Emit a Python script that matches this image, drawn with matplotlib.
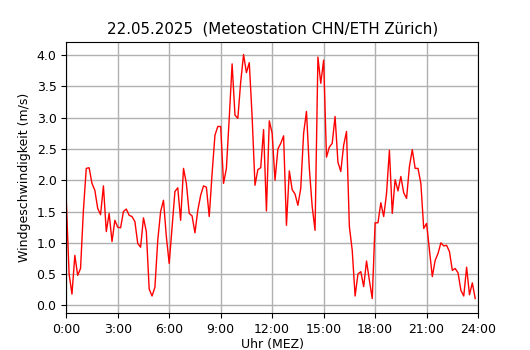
import numpy as np
import matplotlib
matplotlib.use("Agg")
import matplotlib.pyplot as plt

# Wind speed (m/s), 10-minute values from 0:00 to 23:50
wind = [
    1.68, 0.50, 0.18, 0.80, 0.48, 0.59, 1.52, 2.19, 2.20, 1.95,
    1.84, 1.55, 1.45, 1.91, 1.18, 1.47, 1.02, 1.36, 1.25, 1.24,
    1.50, 1.54, 1.44, 1.42, 1.34, 0.99, 0.93, 1.40, 1.18, 0.26,
    0.15, 0.29, 1.04, 1.50, 1.68, 1.10, 0.67, 1.25, 1.82, 1.88,
    1.36, 2.19, 1.95, 1.47, 1.43, 1.16, 1.52, 1.76, 1.91, 1.89,
    1.42, 2.11, 2.72, 2.86, 2.86, 1.95, 2.19, 3.00, 3.86, 3.04,
    2.99, 3.57, 4.01, 3.72, 3.88, 3.01, 1.92, 2.17, 2.20, 2.81,
    1.51, 2.95, 2.75, 2.00, 2.50, 2.59, 2.71, 1.28, 2.15, 1.85,
    1.78, 1.60, 1.87, 2.75, 3.10, 2.19, 1.58, 1.20, 3.97, 3.55,
    3.92, 2.37, 2.53, 2.59, 3.02, 2.29, 2.14, 2.56, 2.78, 1.26,
    0.88, 0.15, 0.50, 0.54, 0.30, 0.71, 0.40, 0.11, 1.32, 1.32,
    1.64, 1.42, 1.79, 2.48, 1.47, 2.01, 1.83, 2.06, 1.80, 1.71,
    2.22, 2.49, 2.19, 2.19, 1.95, 1.23, 1.31, 0.88, 0.46, 0.72,
    0.83, 1.00, 0.95, 0.96, 0.86, 0.56, 0.59, 0.52, 0.24, 0.15,
    0.61, 0.17, 0.36, 0.11,
]
hours = np.arange(len(wind)) / 6.0
tick_hours = list(range(0, 25, 3))
tick_labels = [f"{h}:00" for h in tick_hours]

fig = plt.figure(figsize=(5.3, 3.5), dpi=100)
ax = fig.add_axes([0.125, 0.106, 0.777, 0.774])
ax.plot(hours, wind, color="red", linewidth=1.0)
ax.set_xlim(0, 24)
ax.set_ylim(-0.12, 4.21)
ax.set_xticks(tick_hours)
ax.set_xticklabels(tick_labels)
ax.set_yticks(np.arange(0, 4.01, 0.5))
ax.grid(True, color="#b0b0b0", linewidth=1.0)
ax.set_axisbelow(True)
ax.tick_params(labelsize=9)
ax.set_xlabel("Uhr (MEZ)", fontsize=9, labelpad=2)
ax.set_ylabel("Windgeschwindigkeit (m/s)", fontsize=9)
ax.set_title("22.05.2025  (Meteostation CHN/ETH Zürich)", fontsize=10.8)
fig.savefig("out.png", dpi=100)
